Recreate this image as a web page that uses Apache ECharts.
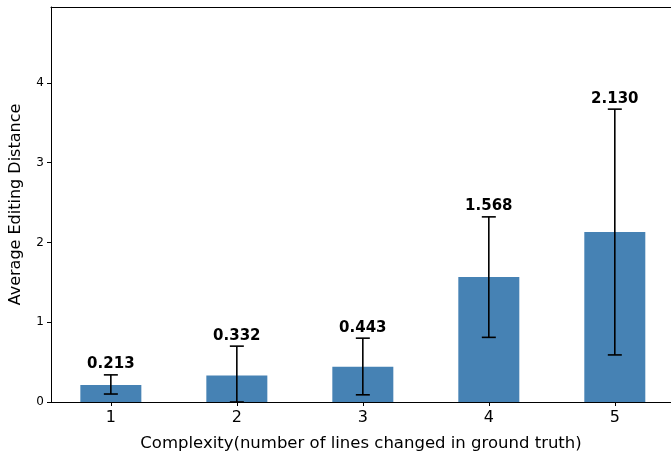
<!DOCTYPE html>
<html>
<head>
<meta charset="utf-8">
<script src="https://cdn.jsdelivr.net/npm/echarts@6/dist/echarts.min.js"></script>
<style>
  html, body { margin: 0; padding: 0; background: #fff; }
  #chart { width: 671px; height: 455px; }
</style>
</head>
<body>
<div id="chart"></div>
<script>
const complexity = [1, 2, 3, 4, 5]
const meanDist = [0.213, 0.332, 0.443, 1.568, 2.130]
const errLow = [0.10, 0.00, 0.09, 0.81, 0.59]
const errHigh = [0.34, 0.70, 0.80, 2.32, 3.67]
const yTicks = [0, 1, 2, 3, 4]

const font = 'DejaVu Sans'
const chart = echarts.init(document.getElementById('chart'))

// right spine is cut off in the original, so frame is drawn from axes only
chart.setOption({
  animation: false,
  grid: { left: 51, top: 7, bottom: 53, right: 0, outerBoundsMode: 'none' },
  xAxis: [{
    type: 'value',
    min: 0.525,
    max: 5.446,
    name: 'Complexity(number of lines changed in ground truth)',
    nameLocation: 'middle',
    nameGap: 33,
    nameTextStyle: { fontFamily: font, fontSize: 16.5, color: '#000' },
    axisLine: { lineStyle: { color: '#000', width: 1 } },
    axisTick: { show: true, length: 4, lineStyle: { color: '#000' }, customValues: complexity },
    axisLabel: { fontFamily: font, fontSize: 16, color: '#000', margin: 8, customValues: complexity },
    splitLine: { show: false }
  }, {
    type: 'value',
    position: 'top',
    min: 0.525,
    max: 5.446,
    axisLine: { show: true, lineStyle: { color: '#000', width: 1 } },
    axisTick: { show: false },
    axisLabel: { show: false },
    splitLine: { show: false }
  }],
  yAxis: {
    type: 'value',
    min: 0,
    max: 4.95,
    name: 'Average Editing Distance',
    nameLocation: 'middle',
    nameGap: 27,
    nameTextStyle: { fontFamily: font, fontSize: 16, color: '#000' },
    axisLine: { show: true, lineStyle: { color: '#000', width: 1 } },
    axisTick: { show: true, length: 4, lineStyle: { color: '#000' }, customValues: yTicks },
    axisLabel: { fontFamily: font, fontSize: 12, color: '#000', margin: 7, customValues: yTicks },
    splitLine: { show: false }
  },
  series: [
    {
      type: 'bar',
      barWidth: 61,
      itemStyle: { color: '#4682b4' },
      data: complexity.map((c, i) => [c, meanDist[i]])
    },
    {
      type: 'custom',
      z: 10,
      data: complexity.map((c, i) => [c, errLow[i], errHigh[i], meanDist[i]]),
      renderItem: function (params, api) {
        const x = api.value(0)
        const lo = api.coord([x, api.value(1)])
        const hi = api.coord([x, api.value(2)])
        const half = 7
        const style = { stroke: '#000', lineWidth: 1.6 }
        return {
          type: 'group',
          children: [
            { type: 'line', shape: { x1: lo[0], y1: lo[1], x2: hi[0], y2: hi[1] }, style },
            { type: 'line', shape: { x1: lo[0] - half, y1: lo[1], x2: lo[0] + half, y2: lo[1] }, style },
            { type: 'line', shape: { x1: hi[0] - half, y1: hi[1], x2: hi[0] + half, y2: hi[1] }, style },
            {
              type: 'text',
              style: {
                x: hi[0], y: hi[1] - 3,
                text: api.value(3).toFixed(3),
                align: 'center', verticalAlign: 'bottom',
                fontFamily: font, fontSize: 15, fontWeight: 'bold', fill: '#000'
              }
            }
          ]
        }
      }
    }
  ]
})
</script>
</body>
</html>
